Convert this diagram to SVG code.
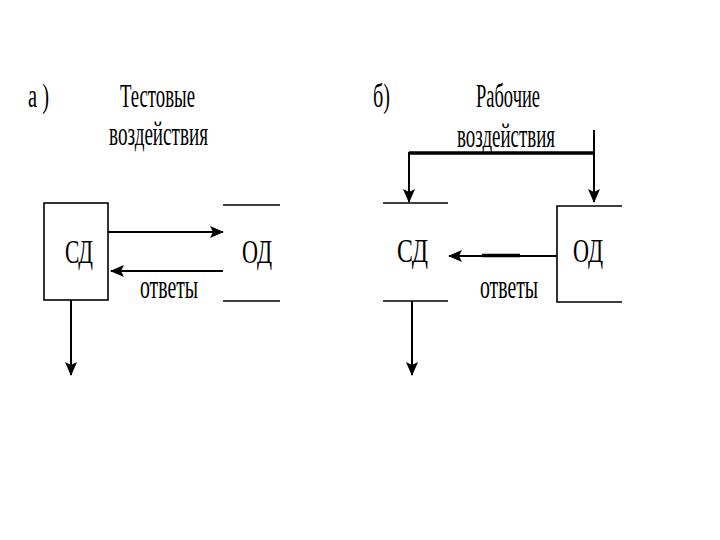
<svg xmlns="http://www.w3.org/2000/svg" width="720" height="540" viewBox="0 0 720 540">
<style>
text{font-family:"Liberation Serif","Times New Roman",serif;font-size:33px;fill:#000}
.ln{stroke:#000;stroke-width:1.6;fill:none}
.cn{stroke:#000;stroke-width:2;fill:none}
.thick{stroke:#000;stroke-width:3.5;fill:none}
</style>
<defs>
<marker id="ah" markerWidth="14" markerHeight="12" refX="13" refY="6" orient="auto" markerUnits="userSpaceOnUse" viewBox="0 0 14 12">
<path d="M0,0 L14,6 L0,12 L3,6 Z" fill="#000"/>
</marker>
</defs>
<rect width="720" height="540" fill="#fff"/>
<g id="labels">
<text x="28" y="107" textLength="21" lengthAdjust="spacingAndGlyphs">а )</text>
<text x="120" y="107" textLength="75" lengthAdjust="spacingAndGlyphs">Тестовые</text>
<text x="109" y="145" textLength="99" lengthAdjust="spacingAndGlyphs">воздействия</text>
<text x="373" y="107" textLength="17" lengthAdjust="spacingAndGlyphs">б)</text>
<text x="476" y="107" textLength="64" lengthAdjust="spacingAndGlyphs">Рабочие</text>
<text x="457" y="147" textLength="98" lengthAdjust="spacingAndGlyphs">воздействия</text>
<text x="140" y="298" textLength="58" lengthAdjust="spacingAndGlyphs">ответы</text>
<text x="480" y="298" textLength="58" lengthAdjust="spacingAndGlyphs">ответы</text>
</g>
<g id="node-sd-a">
<rect class="ln" x="44" y="203" width="64" height="97"/>
<text x="65" y="263" textLength="28" lengthAdjust="spacingAndGlyphs">СД</text>
</g>
<g id="node-od-a">
<line class="ln" x1="223" y1="205" x2="280" y2="205"/>
<line class="ln" x1="223" y1="301" x2="280" y2="301"/>
<text x="242" y="263" textLength="30" lengthAdjust="spacingAndGlyphs">ОД</text>
</g>
<g id="node-sd-b">
<line class="ln" x1="383" y1="203" x2="448" y2="203"/>
<line class="ln" x1="383" y1="301" x2="448" y2="301"/>
<text x="397" y="262" textLength="31" lengthAdjust="spacingAndGlyphs">СД</text>
</g>
<g id="node-od-b">
<path class="ln" d="M622,206 H557 V302 H622"/>
<text x="573" y="262" textLength="30" lengthAdjust="spacingAndGlyphs">ОД</text>
</g>
<g id="connectors">
<line class="cn" x1="108" y1="232" x2="223" y2="232" marker-end="url(#ah)"/>
<line class="cn" x1="223" y1="271" x2="111" y2="271" marker-end="url(#ah)"/>
<line class="cn" x1="71" y1="300" x2="71" y2="375" marker-end="url(#ah)"/>
<line class="cn" x1="557" y1="256" x2="449" y2="256" marker-end="url(#ah)"/>
<line class="thick" x1="482" y1="255.5" x2="520" y2="255.5"/>
<line class="cn" x1="412" y1="301" x2="412" y2="375" marker-end="url(#ah)"/>
<line class="thick" x1="409" y1="153" x2="594" y2="153"/>
<line class="cn" x1="409" y1="152" x2="409" y2="202" marker-end="url(#ah)"/>
<line class="cn" x1="594" y1="130" x2="594" y2="202" marker-end="url(#ah)"/>
</g>
</svg>
